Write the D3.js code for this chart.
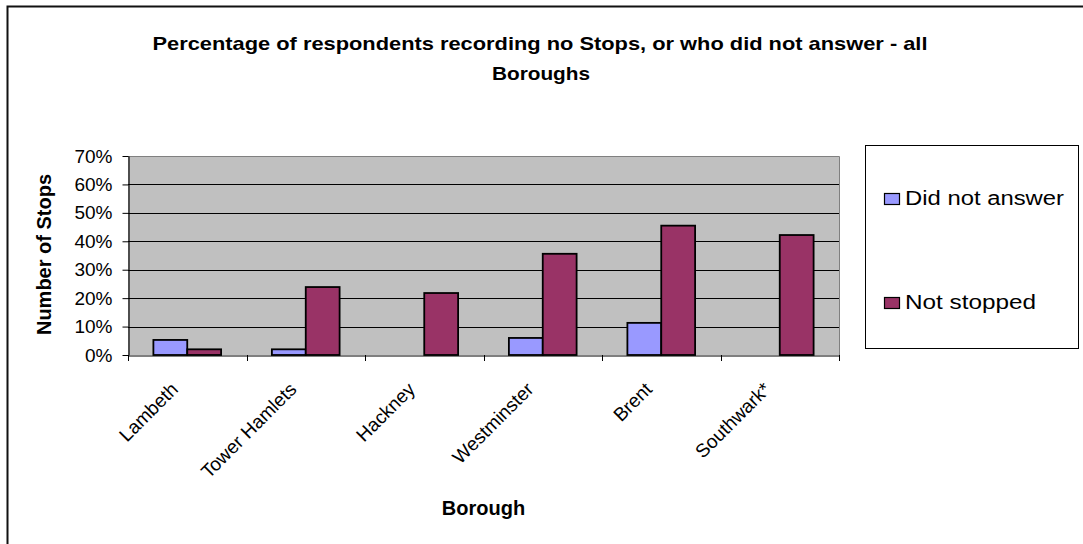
<!DOCTYPE html>
<html>
<head>
<meta charset="utf-8">
<script src="https://cdn.jsdelivr.net/npm/d3@7"></script>
<style>
  html, body { margin: 0; padding: 0; background: #fff; }
  svg { display: block; font-family: "Liberation Sans", Arial, Helvetica, sans-serif; }
</style>
</head>
<body>
<svg id="chart" width="1083" height="544"></svg>
<script>
// ---- data ----
const boroughs = ["Lambeth", "Tower Hamlets", "Hackney", "Westminster", "Brent", "Southwark*"];
const didNotAnswer = [0.053, 0.020, 0.000, 0.060, 0.113, 0.000];
const notStopped   = [0.020, 0.239, 0.218, 0.356, 0.455, 0.422];
const seriesNames  = ["Did not answer", "Not stopped"];
const seriesColors = ["#9999ff", "#993366"];
const yTicks = [0, 0.1, 0.2, 0.3, 0.4, 0.5, 0.6, 0.7];
const titleLines = ["Percentage of respondents recording no Stops, or who did not answer - all", "Boroughs"];
const yAxisTitle = "Number of Stops";
const xAxisTitle = "Borough";

const seriesValues = [didNotAnswer, notStopped];
const rows = boroughs.map((b, i) => ({ borough: b, values: seriesValues.map(s => s[i]) }));

// ---- layout ----
const svg = d3.select("#chart");
const W = 1083, H = 544;
const plot = { left: 128, right: 839, top: 156, bottom: 355 };

svg.append("rect").attr("width", W).attr("height", H).attr("fill", "#fff");

// chart frame (left and top edges fall inside the page)
svg.append("path")
  .attr("d", `M7.5,${H} V6.5 H${W}`)
  .attr("fill", "none").attr("stroke", "#111").attr("stroke-width", 2);

// ---- scales ----
const x = d3.scaleBand().domain(boroughs).range([plot.left, plot.right]).padding(0);
const xs = d3.scaleBand().domain(seriesNames).range([0, x.bandwidth()])
  .paddingInner(0).paddingOuter(0.75);
const y = d3.scaleLinear().domain([0, 0.7]).range([plot.bottom, plot.top]);

// plot background
svg.append("rect")
  .attr("x", plot.left).attr("y", plot.top)
  .attr("width", plot.right - plot.left).attr("height", plot.bottom - plot.top)
  .attr("fill", "#c0c0c0");

// gridlines
svg.append("g").selectAll("line")
  .data(yTicks.filter(t => t > 0 && t < 0.7))
  .join("line")
  .attr("x1", plot.left).attr("x2", plot.right)
  .attr("y1", d => Math.round(y(d)) + 0.5).attr("y2", d => Math.round(y(d)) + 0.5)
  .attr("stroke", "#000").attr("stroke-width", 1);

// plot area border (top and right)
svg.append("path")
  .attr("d", `M${plot.left},${plot.top + 0.5} H${plot.right + 0.5} V${plot.bottom}`)
  .attr("fill", "none").attr("stroke", "#808080").attr("stroke-width", 1);

// bars
const groups = svg.append("g").selectAll("g")
  .data(rows).join("g")
  .attr("transform", d => `translate(${x(d.borough)},0)`);

groups.selectAll("rect")
  .data(d => d.values.map((v, k) => ({ series: seriesNames[k], k, v })).filter(e => e.v > 0))
  .join("rect")
  .attr("x", e => xs(e.series))
  .attr("y", e => y(e.v))
  .attr("width", xs.bandwidth())
  .attr("height", e => y(0) - y(e.v))
  .attr("fill", e => seriesColors[e.k])
  .attr("stroke", "#000").attr("stroke-width", 1.8);

// y axis
const yAxis = svg.append("g")
  .attr("transform", `translate(${plot.left + 0.5},0)`)
  .call(d3.axisLeft(y).tickValues(yTicks).tickFormat(d3.format(".0%"))
    .tickSize(6).tickSizeOuter(0).tickPadding(10));
yAxis.select(".domain").attr("stroke", "#000").attr("stroke-width", 1.2);
yAxis.selectAll(".tick line").attr("stroke", "#000");
yAxis.selectAll(".tick text")
  .attr("font-family", '"Liberation Sans", Arial, sans-serif')
  .attr("font-size", 19).attr("fill", "#000");

// x axis: labels at band centres, ticks at band edges
const xAxis = svg.append("g")
  .attr("transform", `translate(0,${plot.bottom + 0.5})`)
  .call(d3.axisBottom(x).tickSize(0).tickSizeOuter(0));
xAxis.select(".domain").attr("stroke", "#000").attr("stroke-width", 1.2);
xAxis.selectAll(".tick text")
  .attr("font-family", '"Liberation Sans", Arial, sans-serif')
  .attr("font-size", 19).attr("fill", "#000")
  .attr("text-anchor", "end")
  .attr("dy", null).attr("y", 0)
  .attr("transform", "translate(-8,35) rotate(-45)");

const edges = boroughs.map(b => x(b)).concat([plot.right]);
svg.append("g").selectAll("line")
  .data(edges).join("line")
  .attr("x1", d => Math.round(d) + 0.5).attr("x2", d => Math.round(d) + 0.5)
  .attr("y1", plot.bottom).attr("y2", plot.bottom + 6)
  .attr("stroke", "#000");

// titles
const title = svg.append("g").attr("font-weight", "bold").attr("font-size", 18.5).attr("fill", "#000");
title.append("text").attr("x", 540).attr("y", 50).attr("text-anchor", "middle")
  .attr("textLength", 775).attr("lengthAdjust", "spacingAndGlyphs").text(titleLines[0]);
title.append("text").attr("x", 541).attr("y", 80).attr("text-anchor", "middle")
  .attr("textLength", 98).attr("lengthAdjust", "spacingAndGlyphs").text(titleLines[1]);

svg.append("text")
  .attr("transform", `translate(51,${(plot.top + plot.bottom) / 2 - 1}) rotate(-90)`)
  .attr("text-anchor", "middle").attr("font-weight", "bold").attr("font-size", 20)
  .text(yAxisTitle);

svg.append("text")
  .attr("x", 483.5).attr("y", 515).attr("text-anchor", "middle")
  .attr("font-weight", "bold").attr("font-size", 20)
  .text(xAxisTitle);

// legend
const legend = svg.append("g");
legend.append("rect")
  .attr("x", 865.5).attr("y", 145.5).attr("width", 213).attr("height", 203)
  .attr("fill", "#fff").attr("stroke", "#000").attr("stroke-width", 1);
const legendRows = [
  { name: seriesNames[0], color: seriesColors[0], base: 205, width: 159 },
  { name: seriesNames[1], color: seriesColors[1], base: 309, width: 131 }
];
const li = legend.selectAll("g.item").data(legendRows).join("g").attr("class", "item");
li.append("rect")
  .attr("x", 884.5).attr("y", d => d.base - 11.5).attr("width", 15).attr("height", 11)
  .attr("fill", d => d.color).attr("stroke", "#000").attr("stroke-width", 1.2);
li.append("text")
  .attr("x", 905).attr("y", d => d.base)
  .attr("font-size", 20).attr("fill", "#000")
  .attr("textLength", d => d.width).attr("lengthAdjust", "spacingAndGlyphs")
  .text(d => d.name);
</script>
</body>
</html>
